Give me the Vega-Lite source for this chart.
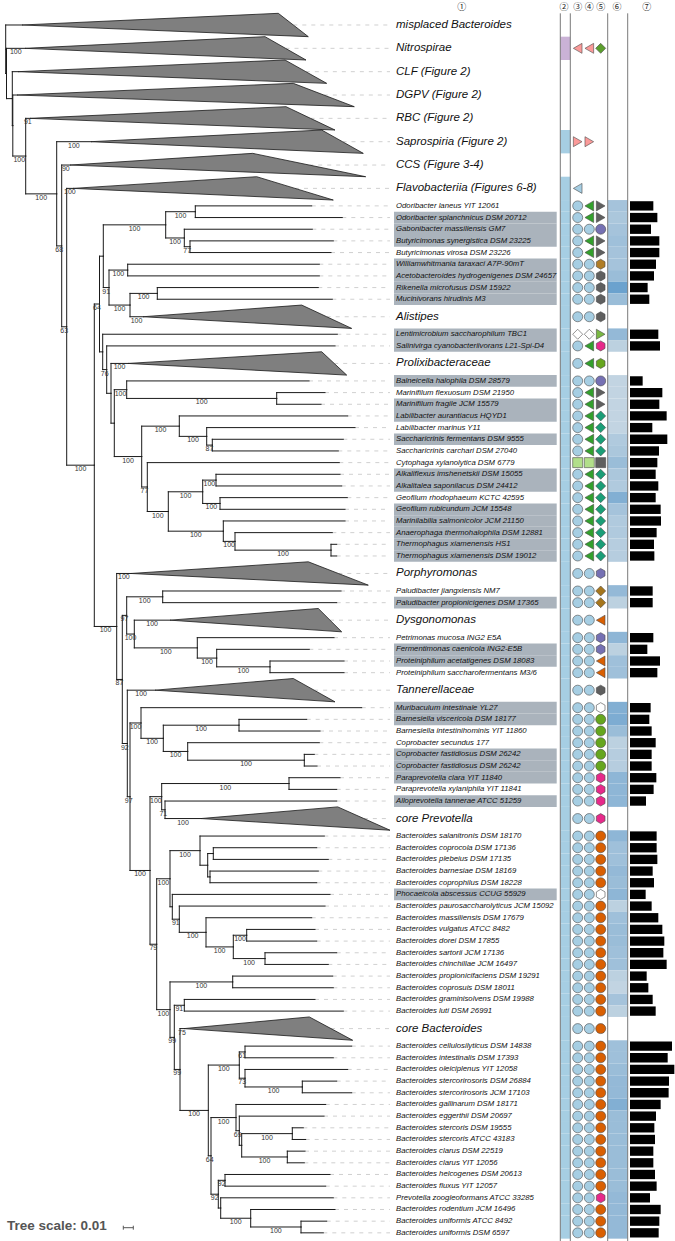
{
"$schema": "https://vega.github.io/schema/vega-lite/v6.json",
"width": 675, "height": 1241, "autosize": {"type": "none"}, "padding": 0,
"background": "#ffffff",
"config": {"view": {"stroke": null}},
"datasets": {"tree": [
{"id":"root","k":"n","d":0.7,"u":3.08},
{"id":"X","p":"root","k":"n","d":1.5,"u":5.155},
{"id":"R1","p":"X","k":"n","d":7.3,"u":7.31},
{"id":"Y","p":"R1","k":"n","d":7.8,"u":9.62},
{"id":"R2","p":"Y","k":"n","d":20.7,"u":12.23,"bs":100},
{"id":"A","p":"R2","k":"n","d":51.7,"u":15.47,"bs":100},
{"id":"B","p":"A","k":"n","d":56.7,"u":19.93,"bs":68},
{"id":"C","p":"B","k":"n","d":61.7,"u":26.86,"bs":63},
{"id":"D","p":"C","k":"n","d":89.3,"u":38.72,"bs":100},
{"id":"E","p":"D","k":"n","d":94.5,"u":24.91,"bs":64},
{"id":"G","p":"E","k":"n","d":98.3,"u":20.81},
{"id":"H","p":"G","k":"n","d":160.7,"u":18.125,"bs":100},
{"id":"I","p":"H","k":"n","d":190.3,"u":17,"bs":100},
{"id":"J","p":"H","k":"n","d":179.3,"u":19.25,"bs":100},
{"id":"K","p":"J","k":"n","d":185,"u":20,"bs":77},
{"id":"L","p":"G","k":"n","d":104,"u":23.5,"bs":91},
{"id":"M","p":"L","k":"n","d":122.7,"u":22,"bs":100},
{"id":"N","p":"L","k":"n","d":125,"u":25,"bs":100},
{"id":"O","p":"N","k":"n","d":152.3,"u":24,"bs":100},
{"id":"P","p":"E","k":"n","d":97.7,"u":29.01},
{"id":"Q","p":"P","k":"n","d":101.7,"u":30.53,"bs":76},
{"id":"R","p":"Q","k":"n","d":106,"u":32.56},
{"id":"S","p":"R","k":"n","d":109.3,"u":35.12},
{"id":"U","p":"S","k":"n","d":121.7,"u":32.25,"bs":100},
{"id":"T","p":"U","k":"n","d":271.7,"u":33,"bs":100},
{"id":"V","p":"S","k":"n","d":136.7,"u":37.98,"bs":100},
{"id":"W","p":"V","k":"n","d":174.3,"u":35.375,"bs":100},
{"id":"Y2","p":"W","k":"n","d":201.7,"u":36.25,"bs":100},
{"id":"Z","p":"Y2","k":"n","d":207.3,"u":37,"bs":87},
{"id":"X2","p":"V","k":"n","d":142.3,"u":40.59,"bs":77},
{"id":"AC","p":"X2","k":"n","d":163.3,"u":42.69,"bs":100},
{"id":"AD","p":"AC","k":"n","d":197.7,"u":41,"bs":100},
{"id":"AB","p":"AD","k":"n","d":211,"u":40,"bs":100},
{"id":"AF","p":"AD","k":"n","d":215,"u":42,"bs":100},
{"id":"AE","p":"AC","k":"n","d":218.3,"u":44.375,"bs":100},
{"id":"AG","p":"AE","k":"n","d":230,"u":45.25,"bs":100},
{"id":"AH","p":"AG","k":"n","d":326,"u":46,"bs":100},
{"id":"F","p":"D","k":"n","d":111.7,"u":52.54,"bs":100},
{"id":"AI","p":"F","k":"n","d":117.3,"u":57.08,"bs":87},
{"id":"AJ","p":"AI","k":"n","d":121.7,"u":51.59,"bs":97},
{"id":"AL","p":"AJ","k":"n","d":157.7,"u":50,"bs":100},
{"id":"AM","p":"AJ","k":"n","d":129.3,"u":53.19,"bs":100},
{"id":"AN","p":"AM","k":"n","d":192.3,"u":54.375,"bs":100},
{"id":"AO","p":"AN","k":"n","d":211.7,"u":55.25,"bs":100},
{"id":"AP","p":"AO","k":"n","d":265,"u":56,"bs":100},
{"id":"AK","p":"AI","k":"n","d":122.3,"u":62.57,"bs":92},
{"id":"AV","p":"AK","k":"n","d":125,"u":67.13,"bs":97},
{"id":"AQ","p":"AV","k":"n","d":136,"u":60.81,"bs":100},
{"id":"AR","p":"AQ","k":"n","d":158.3,"u":62.125,"bs":100},
{"id":"AS","p":"AR","k":"n","d":234,"u":61,"bs":100},
{"id":"AT","p":"AR","k":"n","d":182.7,"u":63.25,"bs":100},
{"id":"AU","p":"AT","k":"n","d":299.3,"u":64,"bs":100},
{"id":"AW","p":"AV","k":"n","d":145,"u":73.45,"bs":100},
{"id":"AX","p":"AW","k":"n","d":156.7,"u":67.125,"bs":100},
{"id":"AZ","p":"AX","k":"n","d":284,"u":66,"bs":100},
{"id":"BA","p":"AX","k":"n","d":160,"u":68.25,"bs":71},
{"id":"AY","p":"AW","k":"n","d":151.7,"u":79.77,"bs":79},
{"id":"BB","p":"AY","k":"n","d":165,"u":74.16,"bs":100},
{"id":"BD","p":"BB","k":"n","d":195,"u":71.75,"bs":100},
{"id":"BF","p":"BD","k":"n","d":202.7,"u":73},
{"id":"BG","p":"BF","k":"n","d":208.3,"u":72},
{"id":"BH","p":"BF","k":"n","d":205,"u":74},
{"id":"BE","p":"BB","k":"n","d":167.3,"u":76.56},
{"id":"BI","p":"BE","k":"n","d":174.3,"u":77.625,"bs":91},
{"id":"BJ","p":"BI","k":"n","d":201,"u":78.75,"bs":100},
{"id":"BK","p":"BJ","k":"n","d":228.3,"u":80,"bs":100},
{"id":"BL","p":"BK","k":"n","d":241.7,"u":79,"bs":100},
{"id":"BM","p":"BK","k":"n","d":260,"u":81,"bs":100},
{"id":"BC","p":"AY","k":"n","d":165,"u":85.375,"bs":100},
{"id":"BN","p":"BC","k":"n","d":227.7,"u":83,"bs":100},
{"id":"BR","p":"BC","k":"n","d":169.3,"u":87.75,"bs":99},
{"id":"BO","p":"BR","k":"n","d":179.3,"u":85,"bs":91},
{"id":"BS","p":"BR","k":"n","d":175,"u":90.5,"bs":99},
{"id":"BT","p":"BS","k":"n","d":203.3,"u":94.01,"bs":100},
{"id":"BU","p":"BT","k":"n","d":234.3,"u":90.125,"bs":100},
{"id":"BW","p":"BU","k":"n","d":240,"u":89,"bs":61},
{"id":"BX","p":"BU","k":"n","d":240,"u":91.25,"bs":73},
{"id":"BY","p":"BX","k":"n","d":297.3,"u":92,"bs":100},
{"id":"BV","p":"BT","k":"n","d":206,"u":97.9,"bs":64},
{"id":"BZ","p":"BV","k":"n","d":231,"u":94.625,"bs":100},
{"id":"CB","p":"BZ","k":"n","d":234.3,"u":95.75,"bs":69},
{"id":"CC","p":"CB","k":"n","d":236.7,"u":97},
{"id":"CD","p":"CC","k":"n","d":287.3,"u":96,"bs":100},
{"id":"CE","p":"CC","k":"n","d":282.3,"u":98,"bs":100},
{"id":"CA","p":"BV","k":"n","d":213.3,"u":101.19,"bs":92},
{"id":"CF","p":"CA","k":"n","d":220,"u":100,"bs":92},
{"id":"CG","p":"CA","k":"n","d":215.7,"u":102.375},
{"id":"CH","p":"CG","k":"n","d":245.7,"u":103.25,"bs":100},
{"id":"CI","p":"CH","k":"n","d":296,"u":104,"bs":100},
{"id":"C1","p":"root","k":"c","d":17,"u":1,"dt":273.3,"db":303.3,"nm":"misplaced Bacteroides"},
{"id":"C2","p":"X","k":"c","d":20,"u":3,"dt":260,"db":301,"bs":100,"nm":"Nitrospirae","c2":"p1","c3":"k2","c4":"k2","c5":"f1"},
{"id":"C3","p":"R1","k":"c","d":13,"u":5,"dt":280,"db":321.7,"nm":"CLF (Figure 2)"},
{"id":"C4","p":"Y","k":"c","d":12,"u":7,"dt":288.3,"db":349.3,"nm":"DGPV (Figure 2)"},
{"id":"C5","p":"R2","k":"c","d":25,"u":9,"dt":281,"db":330,"bs":91,"nm":"RBC (Figure 2)"},
{"id":"C6","p":"A","k":"c","d":86,"u":11,"dt":316.7,"db":358.3,"bs":100,"nm":"Saprospiria (Figure 2)","c2":"p2","c3":"k3","c4":"k3"},
{"id":"C7","p":"B","k":"c","d":65,"u":13,"dt":247.7,"db":360.7,"bs":90,"nm":"CCS (Figure 3-4)"},
{"id":"C8","p":"C","k":"c","d":68,"u":15,"dt":251.7,"db":328.3,"bs":100,"nm":"Flavobacteriia (Figures 6-8)","c2":"p2","c3":"k4"},
{"id":"C9","p":"N","k":"c","d":138,"u":26,"dt":296.7,"db":346.7,"bs":100,"nm":"Alistipes","c2":"p2","c3":"k1","c4":"k1","c5":"f5"},
{"id":"C10","p":"R","k":"c","d":123,"u":30,"dt":316.7,"db":341.7,"bs":100,"nm":"Prolixibacteraceae","c2":"p2","c3":"k1","c4":"k7","c5":"f8"},
{"id":"C11","p":"F","k":"c","d":126,"u":48,"dt":303.3,"db":363.3,"bs":100,"nm":"Porphyromonas","c2":"p2","c3":"k1","c4":"k1","c5":"f11"},
{"id":"C12","p":"AM","k":"c","d":165,"u":52,"dt":313.3,"db":336.7,"bs":100,"nm":"Dysgonomonas","c2":"p2","c3":"k1","c4":"k1","c5":"f13"},
{"id":"C13","p":"AK","k":"c","d":150,"u":58,"dt":288.3,"db":330,"bs":100,"nm":"Tannerellaceae","c2":"p2","c3":"k1","c4":"k1","c5":"f5"},
{"id":"C14","p":"BA","k":"c","d":196,"u":69,"dt":332.7,"db":385,"bs":100,"nm":"core Prevotella","c2":"p2","c3":"k1","c4":"k1","c5":"f7"},
{"id":"C15","p":"BS","k":"c","d":179,"u":87,"dt":304.3,"db":347.7,"bs":75,"nm":"core Bacteroides","c2":"p2","c3":"k1","c4":"k1","c5":"f16"},
{"id":"L1","p":"I","k":"l","d":306.7,"u":16.5,"nm":"Odoribacter laneus YIT 12061","c2":"p2","c3":"k1","c4":"k7","c5":"f2","c6":0.4,"gs":3.89},
{"id":"L2","p":"I","k":"l","d":337.3,"u":17.5,"nm":"Odoribacter splanchnicus DSM 20712","sh":1,"c2":"p2","c3":"k1","c4":"k7","c5":"f2","c6":0.35,"gs":4.56},
{"id":"L3","p":"J","k":"l","d":307.3,"u":18.5,"nm":"Gabonibacter massiliensis GM7","sh":1,"c2":"p2","c3":"k1","c4":"k1","c5":"f3","c6":0.4,"gs":3.5},
{"id":"L4","p":"K","k":"l","d":328.3,"u":19.5,"nm":"Butyricimonas synergistica DSM 23225","sh":1,"c2":"p2","c3":"k1","c4":"k7","c5":"f2","c6":0.45,"gs":4.89},
{"id":"L5","p":"K","k":"l","d":326,"u":20.5,"nm":"Butyricimonas virosa DSM 23226","c2":"p2","c3":"k1","c4":"k7","c5":"f2","c6":0.4,"gs":4.89},
{"id":"L6","p":"M","k":"l","d":314.3,"u":21.5,"nm":"Williamwhitmania taraxaci A7P-90mT","sh":1,"c2":"p2","c3":"k1","c4":"k1","c5":"f4","c6":0.4,"gs":4.33},
{"id":"L7","p":"M","k":"l","d":314.3,"u":22.5,"nm":"Acetobacteroides hydrogenigenes DSM 24657","sh":1,"c2":"p2","c3":"k1","c4":"k1","c5":"f5","c6":0.5,"gs":4.0},
{"id":"L8","p":"O","k":"l","d":313.3,"u":23.5,"nm":"Rikenella microfusus DSM 15922","sh":1,"c2":"p2","c3":"k1","c4":"k1","c5":"f5","c6":0.9,"gs":2.94},
{"id":"L9","p":"O","k":"l","d":327.3,"u":24.5,"nm":"Mucinivorans hirudinis M3","sh":1,"c2":"p2","c3":"k1","c4":"k1","c5":"f5","c6":0.5,"gs":3.22},
{"id":"L10","p":"P","k":"l","d":332.3,"u":27.5,"nm":"Lentimicrobium saccharophilum TBC1","sh":1,"c2":"p2","c3":"k5","c4":"k5","c5":"f6","c6":0.55,"gs":4.72},
{"id":"L11","p":"Q","k":"l","d":330,"u":28.5,"nm":"Salinivirga cyanobacteriivorans L21-Spi-D4","sh":1,"c2":"p2","c3":"k1","c4":"k7","c5":"f7","c6":0.2,"gs":5.0},
{"id":"L12","p":"U","k":"l","d":304,"u":31.5,"nm":"Balneicella halophila DSM 28579","sh":1,"c2":"p2","c3":"k1","c4":"k1","c5":"f3","c6":0.15,"gs":2.11},
{"id":"L13","p":"T","k":"l","d":320,"u":32.5,"nm":"Marinifilum flexuosum DSM 21950","c2":"p2","c3":"k1","c4":"k7","c5":"f2","c6":0.15,"gs":5.39},
{"id":"L14","p":"T","k":"l","d":316,"u":33.5,"nm":"Marinifilum fragile JCM 15579","sh":1,"c2":"p2","c3":"k1","c4":"k7","c5":"f2","c6":0.15,"gs":4.89},
{"id":"L15","p":"W","k":"l","d":342.7,"u":34.5,"nm":"Labilibacter aurantiacus HQYD1","sh":1,"c2":"p2","c3":"k1","c4":"k7","c5":"f9","c6":0.15,"gs":6.11},
{"id":"L16","p":"Y2","k":"l","d":350,"u":35.5,"nm":"Labilibacter marinus Y11","c2":"p2","c3":"k1","c4":"k7","c5":"f9","c6":0.15,"gs":3.72},
{"id":"L17","p":"Z","k":"l","d":338.3,"u":36.5,"nm":"Saccharicrinis fermentans DSM 9555","sh":1,"c2":"p2","c3":"k1","c4":"k7","c5":"f9","c6":0.3,"gs":6.22},
{"id":"L18","p":"Z","k":"l","d":333.3,"u":37.5,"nm":"Saccharicrinis carchari DSM 27040","c2":"p2","c3":"k1","c4":"k7","c5":"f9","c6":0.35,"gs":4.83},
{"id":"L19","p":"X2","k":"l","d":334.3,"u":38.5,"nm":"Cytophaga xylanolytica DSM 6779","c2":"p2","c3":"k6","c4":"k6","c5":"f10","c6":0.5,"gs":4.56},
{"id":"L20","p":"AB","k":"l","d":335,"u":39.5,"nm":"Alkaliflexus imshenetskii DSM 15055","sh":1,"c2":"p2","c3":"k1","c4":"k7","c5":"f9","c6":0.35,"gs":4.28},
{"id":"L21","p":"AB","k":"l","d":336.7,"u":40.5,"nm":"Alkalitalea saponilacus DSM 24412","sh":1,"c2":"p2","c3":"k1","c4":"k7","c5":"f9","c6":0.3,"gs":4.72},
{"id":"L22","p":"AF","k":"l","d":342.3,"u":41.5,"nm":"Geofilum rhodophaeum KCTC 42595","c2":"p2","c3":"k1","c4":"k7","c5":"f9","c6":0.7,"gs":4.28},
{"id":"L23","p":"AF","k":"l","d":340,"u":42.5,"nm":"Geofilum rubicundum JCM 15548","sh":1,"c2":"p2","c3":"k1","c4":"k7","c5":"f9","c6":0.4,"gs":5.11},
{"id":"L24","p":"AE","k":"l","d":340,"u":43.5,"nm":"Marinilabilia salmonicolor JCM 21150","sh":1,"c2":"p2","c3":"k1","c4":"k7","c5":"f9","c6":0.3,"gs":5.17},
{"id":"L25","p":"AG","k":"l","d":327.3,"u":44.5,"nm":"Anaerophaga thermohalophila DSM 12881","sh":1,"c2":"p2","c3":"k1","c4":"k7","c5":"f9","c6":0.3,"gs":4.44},
{"id":"L26","p":"AH","k":"l","d":331.7,"u":45.5,"nm":"Thermophagus xiamenensis HS1","sh":1,"c2":"p2","c3":"k1","c4":"k7","c5":"f9","c6":0.25,"gs":4.0},
{"id":"L27","p":"AH","k":"l","d":331.7,"u":46.5,"nm":"Thermophagus xiamenensis DSM 19012","sh":1,"c2":"p2","c3":"k1","c4":"k7","c5":"f9","c6":0.25,"gs":4.06},
{"id":"L28","p":"AL","k":"l","d":336,"u":49.5,"nm":"Paludibacter jiangxiensis NM7","c2":"p2","c3":"k1","c4":"k1","c5":"f12","c6":0.55,"gs":3.78},
{"id":"L29","p":"AL","k":"l","d":331.7,"u":50.5,"nm":"Paludibacter propionicigenes DSM 17365","sh":1,"c2":"p2","c3":"k1","c4":"k1","c5":"f12","c6":0.2,"gs":3.78},
{"id":"L30","p":"AN","k":"l","d":329,"u":53.5,"nm":"Petrimonas mucosa ING2 E5A","c2":"p2","c3":"k1","c4":"k1","c5":"f11","c6":0.6,"gs":3.89},
{"id":"L31","p":"AO","k":"l","d":304.3,"u":54.5,"nm":"Fermentimonas caenicola ING2-E5B","sh":1,"c2":"p2","c3":"k1","c4":"k1","c5":"f11","c6":0.2,"gs":2.89},
{"id":"L32","p":"AP","k":"l","d":339,"u":55.5,"nm":"Proteiniphilum acetatigenes DSM 18083","sh":1,"c2":"p2","c3":"k1","c4":"k1","c5":"f13","c6":0.45,"gs":5.0},
{"id":"L33","p":"AP","k":"l","d":339,"u":56.5,"nm":"Proteiniphilum saccharofermentans M3/6","c2":"p2","c3":"k1","c4":"k1","c5":"f13","c6":0.45,"gs":4.56},
{"id":"L34","p":"AQ","k":"l","d":356.7,"u":59.5,"nm":"Muribaculum intestinale YL27","sh":1,"c2":"p2","c3":"k1","c4":"k1","c5":"f14","c6":0.7,"gs":3.44},
{"id":"L35","p":"AS","k":"l","d":301.7,"u":60.5,"nm":"Barnesiella viscericola DSM 18177","sh":1,"c2":"p2","c3":"k1","c4":"k1","c5":"f15","c6":0.75,"gs":3.22},
{"id":"L36","p":"AS","k":"l","d":315,"u":61.5,"nm":"Barnesiella intestinihominis YIT 11860","c2":"p2","c3":"k1","c4":"k1","c5":"f15","c6":0.5,"gs":3.61},
{"id":"L37","p":"AT","k":"l","d":314.3,"u":62.5,"nm":"Coprobacter secundus 177","c2":"p2","c3":"k1","c4":"k1","c5":"f15","c6":0.2,"gs":4.28},
{"id":"L38","p":"AU","k":"l","d":309.3,"u":63.5,"nm":"Coprobacter fastidiosus DSM 26242","sh":1,"c2":"p2","c3":"k1","c4":"k1","c5":"f15","c6":0.25,"gs":3.61},
{"id":"L39","p":"AU","k":"l","d":312,"u":64.5,"nm":"Coprobacter fastidiosus DSM 26242","sh":1,"c2":"p2","c3":"k1","c4":"k1","c5":"f15","c6":0.25,"gs":3.61},
{"id":"L40","p":"AZ","k":"l","d":335,"u":65.5,"nm":"Paraprevotella clara YIT 11840","sh":1,"c2":"p2","c3":"k1","c4":"k1","c5":"f7","c6":0.6,"gs":4.39},
{"id":"L41","p":"AZ","k":"l","d":331.7,"u":66.5,"nm":"Paraprevotella xylaniphila YIT 11841","c2":"p2","c3":"k1","c4":"k1","c5":"f7","c6":0.6,"gs":3.94},
{"id":"L42","p":"BA","k":"l","d":331.7,"u":67.5,"nm":"Alloprevotella tannerae ATCC 51259","sh":1,"c2":"p2","c3":"k1","c4":"k1","c5":"f7","c6":0.6,"gs":2.67},
{"id":"L43","p":"BD","k":"l","d":319.3,"u":70.5,"nm":"Bacteroides salanitronis DSM 18170","c2":"p2","c3":"k1","c4":"k1","c5":"f16","c6":0.6,"gs":4.44},
{"id":"L44","p":"BG","k":"l","d":311.7,"u":71.5,"nm":"Bacteroides coprocola DSM 17136","c2":"p2","c3":"k1","c4":"k1","c5":"f16","c6":0.45,"gs":4.44},
{"id":"L45","p":"BG","k":"l","d":323.3,"u":72.5,"nm":"Bacteroides plebeius DSM 17135","c2":"p2","c3":"k1","c4":"k1","c5":"f16","c6":0.45,"gs":4.56},
{"id":"L46","p":"BH","k":"l","d":313.3,"u":73.5,"nm":"Bacteroides barnesiae DSM 18169","c2":"p2","c3":"k1","c4":"k1","c5":"f16","c6":0.55,"gs":3.78},
{"id":"L47","p":"BH","k":"l","d":311.7,"u":74.5,"nm":"Bacteroides coprophilus DSM 18228","c2":"p2","c3":"k1","c4":"k1","c5":"f16","c6":0.5,"gs":4.0},
{"id":"L48","p":"BE","k":"l","d":325,"u":75.5,"nm":"Phocaeicola abscessus CCUG 55929","sh":1,"c2":"p2","c3":"k1","c4":"k1","c5":"f14","c6":0.6,"gs":2.61},
{"id":"L49","p":"BI","k":"l","d":320,"u":76.5,"nm":"Bacteroides paurosaccharolyticus JCM 15092","c2":"p2","c3":"k1","c4":"k1","c5":"f16","c6":0.2,"gs":3.61},
{"id":"L50","p":"BJ","k":"l","d":306.7,"u":77.5,"nm":"Bacteroides massiliensis DSM 17679","c2":"p2","c3":"k1","c4":"k1","c5":"f16","c6":0.45,"gs":4.72},
{"id":"L51","p":"BL","k":"l","d":310,"u":78.5,"nm":"Bacteroides vulgatus ATCC 8482","c2":"p2","c3":"k1","c4":"k1","c5":"f16","c6":0.5,"gs":5.39},
{"id":"L52","p":"BL","k":"l","d":311.7,"u":79.5,"nm":"Bacteroides dorei DSM 17855","c2":"p2","c3":"k1","c4":"k1","c5":"f16","c6":0.5,"gs":5.72},
{"id":"L53","p":"BM","k":"l","d":331.7,"u":80.5,"nm":"Bacteroides sartorii JCM 17136","c2":"p2","c3":"k1","c4":"k1","c5":"f16","c6":0.45,"gs":5.56},
{"id":"L54","p":"BM","k":"l","d":323.3,"u":81.5,"nm":"Bacteroides chinchillae JCM 16497","c2":"p2","c3":"k1","c4":"k1","c5":"f16","c6":0.45,"gs":6.11},
{"id":"L55","p":"BN","k":"l","d":327.7,"u":82.5,"nm":"Bacteroides propionicifaciens DSM 19291","c2":"p2","c3":"k1","c4":"k1","c5":"f16","c6":0.2,"gs":2.78},
{"id":"L56","p":"BN","k":"l","d":328.3,"u":83.5,"nm":"Bacteroides coprosuis DSM 18011","c2":"p2","c3":"k1","c4":"k1","c5":"f16","c6":0.15,"gs":3.06},
{"id":"L57","p":"BO","k":"l","d":310,"u":84.5,"nm":"Bacteroides graminisolvens DSM 19988","c2":"p2","c3":"k1","c4":"k1","c5":"f16","c6":0.4,"gs":3.78},
{"id":"L58","p":"BO","k":"l","d":338.3,"u":85.5,"nm":"Bacteroides luti DSM 26991","c2":"p2","c3":"k1","c4":"k1","c5":"f16","c6":0.2,"gs":4.28},
{"id":"L59","p":"BW","k":"l","d":346.7,"u":88.5,"nm":"Bacteroides cellulosilyticus DSM 14838","c2":"p2","c3":"k1","c4":"k1","c5":"f16","c6":0.45,"gs":7.0},
{"id":"L60","p":"BW","k":"l","d":328.3,"u":89.5,"nm":"Bacteroides intestinalis DSM 17393","c2":"p2","c3":"k1","c4":"k1","c5":"f16","c6":0.45,"gs":6.28},
{"id":"L61","p":"BX","k":"l","d":342.7,"u":90.5,"nm":"Bacteroides oleiciplenus YIT 12058","c2":"p2","c3":"k1","c4":"k1","c5":"f16","c6":0.5,"gs":7.39},
{"id":"L62","p":"BY","k":"l","d":331.7,"u":91.5,"nm":"Bacteroides stercorirosoris DSM 26884","c2":"p2","c3":"k1","c4":"k1","c5":"f16","c6":0.55,"gs":6.5},
{"id":"L63","p":"BY","k":"l","d":346.7,"u":92.5,"nm":"Bacteroides stercorirosoris JCM 17103","c2":"p2","c3":"k1","c4":"k1","c5":"f16","c6":0.55,"gs":6.44},
{"id":"L64","p":"BZ","k":"l","d":320.7,"u":93.5,"nm":"Bacteroides gallinarum DSM 18171","c2":"p2","c3":"k1","c4":"k1","c5":"f16","c6":0.7,"gs":5.11},
{"id":"L65","p":"CB","k":"l","d":319,"u":94.5,"nm":"Bacteroides eggerthii DSM 20697","c2":"p2","c3":"k1","c4":"k1","c5":"f16","c6":0.5,"gs":4.33},
{"id":"L66","p":"CD","k":"l","d":298.3,"u":95.5,"nm":"Bacteroides stercoris DSM 19555","c2":"p2","c3":"k1","c4":"k1","c5":"f16","c6":0.5,"gs":4.06},
{"id":"L67","p":"CD","k":"l","d":300.7,"u":96.5,"nm":"Bacteroides stercoris ATCC 43183","c2":"p2","c3":"k1","c4":"k1","c5":"f16","c6":0.5,"gs":4.17},
{"id":"L68","p":"CE","k":"l","d":300,"u":97.5,"nm":"Bacteroides clarus DSM 22519","c2":"p2","c3":"k1","c4":"k1","c5":"f16","c6":0.5,"gs":3.89},
{"id":"L69","p":"CE","k":"l","d":299.3,"u":98.5,"nm":"Bacteroides clarus YIT 12056","c2":"p2","c3":"k1","c4":"k1","c5":"f16","c6":0.5,"gs":3.89},
{"id":"L70","p":"CF","k":"l","d":325,"u":99.5,"nm":"Bacteroides helcogenes DSM 20613","c2":"p2","c3":"k1","c4":"k1","c5":"f16","c6":0.5,"gs":4.17},
{"id":"L71","p":"CF","k":"l","d":320.7,"u":100.5,"nm":"Bacteroides fluxus YIT 12057","c2":"p2","c3":"k1","c4":"k1","c5":"f16","c6":0.5,"gs":4.44},
{"id":"L72","p":"CG","k":"l","d":328.3,"u":101.5,"nm":"Prevotella zoogleoformans ATCC 33285","c2":"p2","c3":"k1","c4":"k1","c5":"f7","c6":0.55,"gs":3.33},
{"id":"L73","p":"CH","k":"l","d":330,"u":102.5,"nm":"Bacteroides rodentium JCM 16496","c2":"p2","c3":"k1","c4":"k1","c5":"f16","c6":0.55,"gs":5.11},
{"id":"L74","p":"CI","k":"l","d":321.7,"u":103.5,"nm":"Bacteroides uniformis ATCC 8492","c2":"p2","c3":"k1","c4":"k1","c5":"f16","c6":0.55,"gs":4.89},
{"id":"L75","p":"CI","k":"l","d":318.3,"u":104.5,"nm":"Bacteroides uniformis DSM 6597","c2":"p2","c3":"k1","c4":"k1","c5":"f16","c6":0.55,"gs":4.78}
]},
"layer": [
 {"data": {"name": "tree"},
  "transform": [{"filter": "datum.sh == 1"}, {"calculate": "389", "as": "xa"}, {"calculate": "551.7", "as": "xb"}, {"calculate": "datum.u - 0.5", "as": "y0"}, {"calculate": "datum.u + 0.5", "as": "y1"}],
  "mark": {"type": "rect", "fill": "#aab3bc"},
  "encoding": {"x": {"field": "xa", "type": "quantitative", "scale": {"domain": [-5, 670], "nice": false, "zero": false}, "axis": null}, "x2": {"field": "xb"},
   "y": {"field": "y0", "type": "quantitative", "scale": {"domain": [-1.142, 105.2], "reverse": true, "nice": false, "zero": false}, "axis": null}, "y2": {"field": "y1"}}},
 {"data": {"name": "tree"},
  "transform": [{"filter": "datum.c2 != null"}, {"calculate": "555.3", "as": "xa"}, {"calculate": "565.3", "as": "xb"}, {"calculate": "datum.k == 'c' ? datum.u - 1 : datum.u - 0.5", "as": "y0"}, {"calculate": "datum.k == 'c' ? datum.u + 1 : datum.u + 0.5", "as": "y1"}],
  "mark": {"type": "rect"},
  "encoding": {"x": {"field": "xa", "type": "quantitative", "scale": {"domain": [-5, 670], "nice": false, "zero": false}, "axis": null}, "x2": {"field": "xb"},
   "y": {"field": "y0", "type": "quantitative", "scale": {"domain": [-1.142, 105.2], "reverse": true, "nice": false, "zero": false}, "axis": null}, "y2": {"field": "y1"},
   "fill": {"field": "c2", "type": "nominal", "legend": null, "scale": {"domain": ["p1","p2","k1","k2","k3","k4","k5","k6","k7","f1","f2","f3","f4","f5","f6","f7","f8","f9","f10","f11","f12","f13","f14","f15","f16"], "range": ["#cab2d6","#a6cee3","#a6cee3","#fb9a99","#fb9a99","#a6cee3","#ffffff","#b2df8a","#33a02c","#5b9e2d","#5f5f5f","#7570b3","#b07d26","#5f5f5f","#7ab842","#e7298a","#66a61e","#1b9e77","#5f5f5f","#7570b3","#a6761d","#d95f02","#ffffff","#66a61e","#d95f02"]}}}},
 {"data": {"name": "tree"},
  "transform": [{"filter": "datum.c6 != null"}, {"calculate": "602.7", "as": "xa"}, {"calculate": "622.7", "as": "xb"}, {"calculate": "datum.u - 0.5", "as": "y0"}, {"calculate": "datum.u + 0.5", "as": "y1"}],
  "mark": {"type": "rect"},
  "encoding": {"x": {"field": "xa", "type": "quantitative", "scale": {"domain": [-5, 670], "nice": false, "zero": false}, "axis": null}, "x2": {"field": "xb"},
   "y": {"field": "y0", "type": "quantitative", "scale": {"domain": [-1.142, 105.2], "reverse": true, "nice": false, "zero": false}, "axis": null}, "y2": {"field": "y1"},
   "color": {"field": "c6", "type": "quantitative", "legend": null, "scale": {"domain": [0, 1], "range": ["#d3dee6", "#5e9bcc"]}}}},
 {"data": {"values": [{"g": "②"}, {"g": "③"}, {"g": "⑥"}, {"g": "⑦"}]},
  "transform": [{"calculate": "datum.g == '②' ? 555.3 : datum.g == '③' ? 565.3 : datum.g == '⑥' ? 602.7 : 622.7", "as": "xa"}, {"calculate": "0", "as": "y0"}, {"calculate": "105.2", "as": "y1"}],
  "mark": {"type": "rule", "stroke": "#7a7a7a", "strokeWidth": 1},
  "encoding": {"x": {"field": "xa", "type": "quantitative", "scale": {"domain": [-5, 670], "nice": false, "zero": false}, "axis": null},
   "y": {"field": "y0", "type": "quantitative", "scale": {"domain": [-1.142, 105.2], "reverse": true, "nice": false, "zero": false}, "axis": null}, "y2": {"field": "y1"}}},
 {"data": {"name": "tree"},
  "transform": [{"filter": "datum.k != 'n'"}, {"calculate": "datum.k == 'c' ? (datum.dt + datum.db) / 2 : datum.d", "as": "tip"}, {"calculate": "385", "as": "xb"}],
  "mark": {"type": "rule", "stroke": "#c4c4c4", "strokeWidth": 0.8, "strokeDash": [4, 5]},
  "encoding": {"x": {"field": "tip", "type": "quantitative", "scale": {"domain": [-5, 670], "nice": false, "zero": false}, "axis": null}, "x2": {"field": "xb"},
   "y": {"field": "u", "type": "quantitative", "scale": {"domain": [-1.142, 105.2], "reverse": true, "nice": false, "zero": false}, "axis": null}}},
 {"data": {"name": "tree"},
  "transform": [{"filter": "datum.p != null"}, {"lookup": "p", "from": {"data": {"name": "tree"}, "key": "id", "fields": ["d", "u"]}, "as": ["pd", "pu"]}],
  "mark": {"type": "rule", "stroke": "#1a1a1a", "strokeWidth": 1, "strokeCap": "square"},
  "encoding": {"x": {"field": "pd", "type": "quantitative", "scale": {"domain": [-5, 670], "nice": false, "zero": false}, "axis": null}, "x2": {"field": "d"},
   "y": {"field": "u", "type": "quantitative", "scale": {"domain": [-1.142, 105.2], "reverse": true, "nice": false, "zero": false}, "axis": null}}},
 {"data": {"name": "tree"},
  "transform": [{"filter": "datum.p != null"}, {"lookup": "p", "from": {"data": {"name": "tree"}, "key": "id", "fields": ["d", "u"]}, "as": ["pd", "pu"]}],
  "mark": {"type": "rule", "stroke": "#1a1a1a", "strokeWidth": 1, "strokeCap": "square"},
  "encoding": {"x": {"field": "pd", "type": "quantitative", "scale": {"domain": [-5, 670], "nice": false, "zero": false}, "axis": null},
   "y": {"field": "pu", "type": "quantitative", "scale": {"domain": [-1.142, 105.2], "reverse": true, "nice": false, "zero": false}, "axis": null}, "y2": {"field": "u"}}},
 {"data": {"name": "tree"},
  "transform": [{"filter": "datum.k == 'c'"}, {"calculate": "(datum.dt + datum.db) / 2", "as": "dm"}, {"fold": ["dt", "d", "db"], "as": ["corner", "cx"]},
   {"calculate": "datum.corner == 'dt' ? datum.u - 1 : (datum.corner == 'db' ? datum.u + 1 : datum.u)", "as": "cy"},
   {"calculate": "datum.corner == 'd' ? datum.dm : datum.cx", "as": "cx2"}],
  "mark": {"type": "area", "orient": "horizontal", "fill": "#7f7f7f", "stroke": "#1a1a1a", "strokeWidth": 0.8, "opacity": 1},
  "encoding": {"x": {"field": "cx", "type": "quantitative", "scale": {"domain": [-5, 670], "nice": false, "zero": false}, "axis": null}, "x2": {"field": "cx2"},
   "y": {"field": "cy", "type": "quantitative", "scale": {"domain": [-1.142, 105.2], "reverse": true, "nice": false, "zero": false}, "axis": null},
   "detail": {"field": "id", "type": "nominal"}}},
 {"data": {"name": "tree"},
  "transform": [{"filter": "datum.bs != null && datum.p != null"}, {"lookup": "p", "from": {"data": {"name": "tree"}, "key": "id", "fields": ["d", "u"]}, "as": ["pd", "pu"]}, {"calculate": "(datum.pd + datum.d) / 2", "as": "mx"}],
  "mark": {"type": "text", "font": "Liberation Sans", "fontSize": 7, "fill": "#333333", "align": "center", "baseline": "middle", "dy": 4},
  "encoding": {"x": {"field": "mx", "type": "quantitative", "scale": {"domain": [-5, 670], "nice": false, "zero": false}, "axis": null},
   "y": {"field": "u", "type": "quantitative", "scale": {"domain": [-1.142, 105.2], "reverse": true, "nice": false, "zero": false}, "axis": null},
   "text": {"field": "bs", "type": "nominal"}}},
 {"data": {"name": "tree"},
  "transform": [{"filter": "datum.k != 'n'"}, {"calculate": "391", "as": "xa"}, {"calculate": "datum.k == 'c' ? 11.5 : 7.75", "as": "fs"}],
  "mark": {"type": "text", "font": "Liberation Sans", "fontStyle": "italic", "fill": "#111111", "align": "left", "baseline": "middle"},
  "encoding": {"x": {"field": "xa", "type": "quantitative", "scale": {"domain": [-5, 670], "nice": false, "zero": false}, "axis": null},
   "y": {"field": "u", "type": "quantitative", "scale": {"domain": [-1.142, 105.2], "reverse": true, "nice": false, "zero": false}, "axis": null},
   "size": {"field": "fs", "type": "quantitative", "scale": null},
   "text": {"field": "nm", "type": "nominal"}}},
 {"data": {"name": "tree"},
  "transform": [{"fold": ["c3", "c4", "c5"], "as": ["col", "state"]}, {"filter": "datum.state != null"}, {"calculate": "datum.col == 'c3' ? 572.7 : datum.col == 'c4' ? 584.3 : 595.7", "as": "xa"}],
  "mark": {"type": "point", "filled": true, "size": 100, "stroke": "#4a4a4a", "strokeWidth": 0.6, "opacity": 1},
  "encoding": {"x": {"field": "xa", "type": "quantitative", "scale": {"domain": [-5, 670], "nice": false, "zero": false}, "axis": null},
   "y": {"field": "u", "type": "quantitative", "scale": {"domain": [-1.142, 105.2], "reverse": true, "nice": false, "zero": false}, "axis": null},
   "shape": {"field": "state", "type": "nominal", "legend": null, "scale": {"domain": ["k1","k2","k3","k4","k5","k6","k7","f1","f2","f3","f4","f5","f6","f7","f8","f9","f10","f11","f12","f13","f14","f15","f16"], "range": ["circle","triangle-left","triangle-right","triangle-left","diamond","square","triangle-left","diamond","triangle-right","circle","M0,-1L0.866,-0.5L0.866,0.5L0,1L-0.866,0.5L-0.866,-0.5Z","M0,-1L0.866,-0.5L0.866,0.5L0,1L-0.866,0.5L-0.866,-0.5Z","triangle-right","M0,-1L0.866,-0.5L0.866,0.5L0,1L-0.866,0.5L-0.866,-0.5Z","M0,-1L0.866,-0.5L0.866,0.5L0,1L-0.866,0.5L-0.866,-0.5Z","diamond","square","M0,-1L0.866,-0.5L0.866,0.5L0,1L-0.866,0.5L-0.866,-0.5Z","diamond","triangle-left","M0,-1L0.866,-0.5L0.866,0.5L0,1L-0.866,0.5L-0.866,-0.5Z","circle","circle"]}},
   "fill": {"field": "state", "type": "nominal", "legend": null, "scale": {"domain": ["p1","p2","k1","k2","k3","k4","k5","k6","k7","f1","f2","f3","f4","f5","f6","f7","f8","f9","f10","f11","f12","f13","f14","f15","f16"], "range": ["#cab2d6","#a6cee3","#a6cee3","#fb9a99","#fb9a99","#a6cee3","#ffffff","#b2df8a","#33a02c","#5b9e2d","#5f5f5f","#7570b3","#b07d26","#5f5f5f","#7ab842","#e7298a","#66a61e","#1b9e77","#5f5f5f","#7570b3","#a6761d","#d95f02","#ffffff","#66a61e","#d95f02"]}}}},
 {"data": {"values": [{"h": "①"}, {"h": "②"}, {"h": "③"}, {"h": "④"}, {"h": "⑤"}, {"h": "⑥"}, {"h": "⑦"}]},
  "transform": [{"calculate": "datum.h == '①' ? 456.7 : datum.h == '②' ? 559 : datum.h == '③' ? 572.7 : datum.h == '④' ? 584.3 : datum.h == '⑤' ? 595.7 : datum.h == '⑥' ? 612 : 641.7", "as": "xa"}, {"calculate": "-0.5", "as": "ya"}],
  "mark": {"type": "text", "font": "Noto Sans CJK JP", "fontSize": 9, "fill": "#222222", "align": "center", "baseline": "middle"},
  "encoding": {"x": {"field": "xa", "type": "quantitative", "scale": {"domain": [-5, 670], "nice": false, "zero": false}, "axis": null},
   "y": {"field": "ya", "type": "quantitative", "scale": {"domain": [-1.142, 105.2], "reverse": true, "nice": false, "zero": false}, "axis": null},
   "text": {"field": "h", "type": "nominal"}}},
 {"data": {"values": [{"t": "Tree scale: 0.01"}]},
  "transform": [{"calculate": "2", "as": "xa"}, {"calculate": "103.89", "as": "ya"}],
  "mark": {"type": "text", "font": "Liberation Sans", "fontSize": 13.5, "fontWeight": "bold", "fill": "#555555", "align": "left", "baseline": "middle"},
  "encoding": {"x": {"field": "xa", "type": "quantitative", "scale": {"domain": [-5, 670], "nice": false, "zero": false}, "axis": null},
   "y": {"field": "ya", "type": "quantitative", "scale": {"domain": [-1.142, 105.2], "reverse": true, "nice": false, "zero": false}, "axis": null},
   "text": {"field": "t", "type": "nominal"}}},
 {"data": {"values": [{"s": "bar"}, {"s": "left"}, {"s": "right"}]},
  "transform": [{"calculate": "datum.s == 'right' ? 128.3 : 118.3", "as": "xa"}, {"calculate": "datum.s == 'left' ? 118.3 : 128.3", "as": "xb"},
   {"calculate": "datum.s == 'bar' ? 104.06 : 103.89", "as": "y0"}, {"calculate": "datum.s == 'bar' ? 104.06 : 104.23", "as": "y1"}],
  "mark": {"type": "rule", "stroke": "#555555", "strokeWidth": 1},
  "encoding": {"x": {"field": "xa", "type": "quantitative", "scale": {"domain": [-5, 670], "nice": false, "zero": false}, "axis": null}, "x2": {"field": "xb"},
   "y": {"field": "y0", "type": "quantitative", "scale": {"domain": [-1.142, 105.2], "reverse": true, "nice": false, "zero": false}, "axis": null}, "y2": {"field": "y1"}}},
 {"data": {"name": "tree"},
  "transform": [{"filter": "datum.gs != null"}, {"calculate": "625", "as": "xa"}, {"calculate": "625 + datum.gs * 6", "as": "xb"}, {"calculate": "datum.u - 0.4", "as": "y0"}, {"calculate": "datum.u + 0.4", "as": "y1"}],
  "mark": {"type": "rect", "fill": "#000000"},
  "encoding": {"x": {"field": "xa", "type": "quantitative", "scale": {"domain": [-5, 670], "nice": false, "zero": false}, "axis": null}, "x2": {"field": "xb"},
   "y": {"field": "y0", "type": "quantitative", "scale": {"domain": [-1.142, 105.2], "reverse": true, "nice": false, "zero": false}, "axis": null}, "y2": {"field": "y1"}}}
]
}
